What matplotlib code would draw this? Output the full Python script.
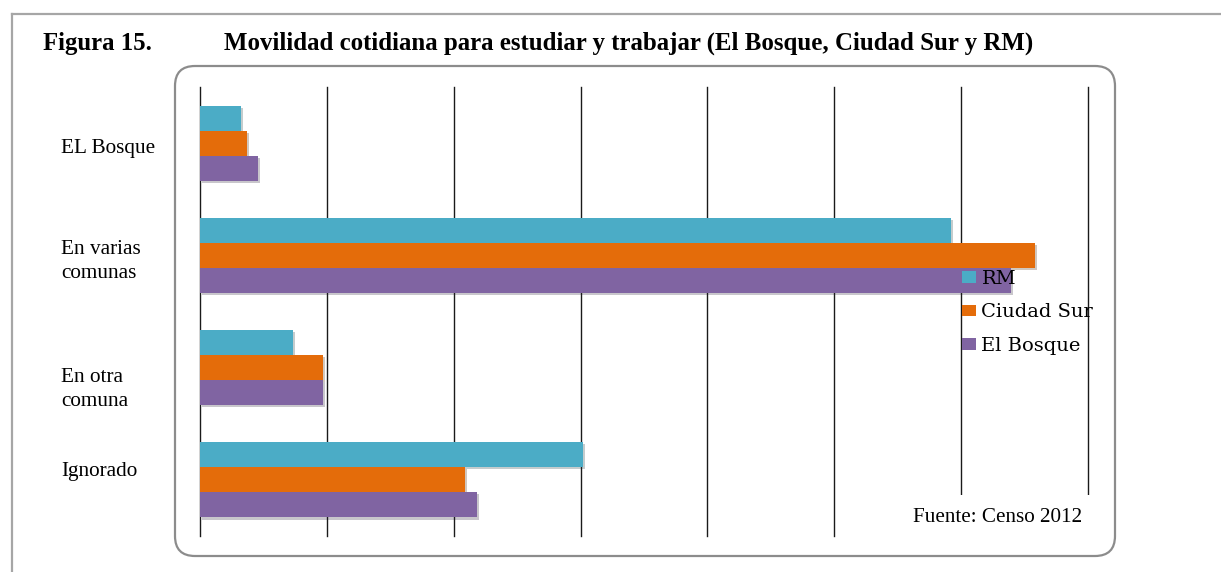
import matplotlib
matplotlib.use("Agg")
import numpy as np
from matplotlib import pyplot as plt
from matplotlib import patheffects
from matplotlib.patches import FancyBboxPatch, Patch
from matplotlib.lines import Line2D
from matplotlib.transforms import blended_transform_factory, offset_copy

# Movilidad cotidiana, % (Censo 2012)
categories = ["EL Bosque", "En varias\ncomunas", "En otra\ncomuna", "Ignorado"]
series_names = ["RM", "Ciudad Sur", "El Bosque"]
rm = [3.2, 59.2, 7.3, 30.2]
ciudad_sur = [3.7, 65.8, 9.7, 20.9]
el_bosque = [4.6, 63.9, 9.7, 21.8]
colors = ["#4BACC6", "#E46C0A", "#8064A2"]

W, H = 1221, 572
fig = plt.figure(figsize=(W / 100, H / 100), dpi=100)

# page frame (top and left edge of the document box)
fig.add_artist(Line2D([12 / W, 1], [1 - 14 / H, 1 - 14 / H], color="#a6a6a6", lw=1.6))
fig.add_artist(Line2D([12 / W, 12 / W], [0, 1 - 14 / H], color="#a6a6a6", lw=1.6))

# rounded chart area
box = FancyBboxPatch((1.75, 0.16), 9.40, 4.90, boxstyle="round,pad=0,rounding_size=0.2",
                     transform=fig.dpi_scale_trans, facecolor="white",
                     edgecolor="#8c8c8c", lw=1.6, zorder=0)
fig.add_artist(box)

fig.text(43 / W, 1 - 50 / H, "Figura 15.", family="Liberation Serif", weight="bold",
         size=17.8, va="baseline", ha="left")
fig.text(224 / W, 1 - 50 / H,
         "Movilidad cotidiana para estudiar y trabajar (El Bosque, Ciudad Sur y RM)",
         family="Liberation Serif", weight="bold", size=17.9, va="baseline", ha="left")

ax = fig.add_axes([200 / W, 36 / H, 888 / W, 449 / H])
ax.set_facecolor("none")

y = np.arange(len(categories))
h = 0.223
shadow = [patheffects.SimplePatchShadow(offset=(1.5, -1.5), alpha=0.25), patheffects.Normal()]
for k, vals in enumerate([rm, ciudad_sur, el_bosque]):
    bars = ax.barh(y + (k - 1) * h, vals, height=h, color=colors[k], zorder=3)
    for b in bars:
        b.set_path_effects(shadow)

ax.set_xlim(0, 70)
ax.set_ylim(3.5, -0.5)
ax.set_xticks(np.arange(0, 71, 10))
ax.grid(axis="x", color="#1a1a1a", lw=1.0, zorder=1)
for gl in ax.get_xgridlines():
    gl.set_clip_on(False)
ax.tick_params(length=0, labelbottom=False, labelleft=False)
for s in ax.spines.values():
    s.set_visible(False)

# category labels, left aligned as in the original
trans = blended_transform_factory(fig.transFigure, ax.transData)
label_shift = [-3.6, -4.6, -16, 6.2]
for i, lab in enumerate(categories):
    t = offset_copy(trans, fig=fig, y=label_shift[i], units="points")
    ax.text(61 / W, y[i], lab, transform=t, family="Liberation Serif", size=15.3,
            ha="left", va="center", linespacing=1.35)

handles = [Patch(facecolor=c, edgecolor="none") for c in colors]
fig.legend(handles, series_names, loc="upper left", bbox_to_anchor=(962 / W, 1 - 270 / H),
           frameon=False, prop={"family": "DejaVu Serif", "size": 14},
           handlelength=0.7, handleheight=0.55, handletextpad=0.3,
           labelspacing=0.79, borderpad=0, borderaxespad=0)

fig.text(913 / W, 1 - 517 / H, "Fuente: Censo 2012", family="Liberation Serif", size=15.2,
         ha="left", va="center",
         bbox=dict(facecolor="white", edgecolor="none", pad=9))

fig.savefig("out.png", dpi=100)
